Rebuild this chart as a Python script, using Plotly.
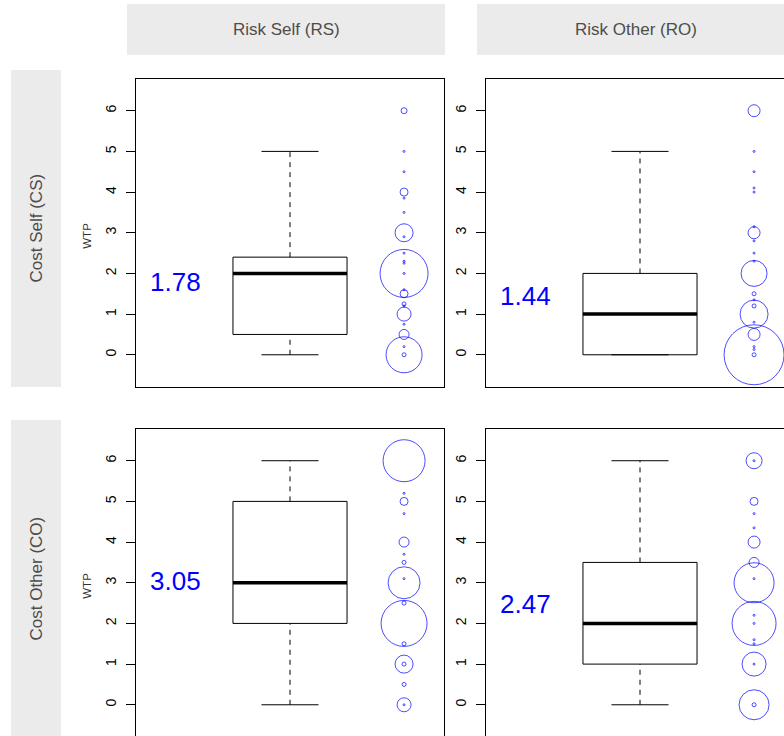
import plotly.graph_objects as go

W, H = 784, 736

col_titles = ["Risk Self (RS)", "Risk Other (RO)"]
row_titles = ["Cost Self (CS)", "Cost Other (CO)"]
y_ticks = [0, 1, 2, 3, 4, 5, 6]

# five-number summaries: lower whisker, lower hinge, median, upper hinge, upper whisker
box_cs_rs = [0, 0.5, 2, 2.4, 5]
box_cs_ro = [0, 0, 1, 2, 5]
box_co_rs = [0, 2, 3, 5, 6]
box_co_ro = [0, 1, 2, 3.5, 6]

# mean WTP per condition
mean_cs_rs = 1.78
mean_cs_ro = 1.44
mean_co_rs = 3.05
mean_co_ro = 2.47

# distinct WTP answers and how many respondents gave each
wtp_cs_rs = [6, 5, 4.5, 4, 3.85, 3.5, 3, 2.9, 2.5, 2.3, 2.25, 2, 2, 1.6, 1.5, 1.25, 1.2, 1, 0.75, 0.5, 0.2, 0, 0]
n_cs_rs = [3, 1, 1, 4, 1, 1, 9, 1, 1, 1, 1, 24, 1, 1, 4, 2, 1, 7, 1, 5, 1, 18, 2]

wtp_cs_ro = [6, 5, 4.5, 4.1, 4, 3.15, 3, 2.8, 2.5, 2.3, 2, 1.5, 1.35, 1.2, 1, 0.8, 0.5, 0.2, 0.13, 0, 0]
n_cs_ro = [6, 1, 1, 1, 1, 1, 6, 1, 1, 1, 13, 2, 1, 2, 14, 1, 6, 1, 1, 30, 2]

wtp_co_rs = [6, 5.2, 5, 4.7, 4, 3.7, 3.5, 3.1, 3, 2.5, 2, 1.5, 1, 1, 0.5, 0, 0]
n_co_rs = [21, 1, 4, 1, 5, 1, 2, 1, 16, 2, 23, 2, 9, 2, 2, 7, 1]

wtp_co_ro = [6, 6, 5, 4.7, 4.35, 4, 3.5, 3.1, 3, 2.2, 2, 2, 1.6, 1.5, 1, 1, 0, 0]
n_co_ro = [8, 1, 4, 1, 1, 6, 5, 1, 20, 1, 22, 1, 1, 1, 12, 1, 15, 2]

panels = [
    (0, 0, box_cs_rs, mean_cs_rs, wtp_cs_rs, n_cs_rs),
    (0, 1, box_cs_ro, mean_cs_ro, wtp_cs_ro, n_cs_ro),
    (1, 0, box_co_rs, mean_co_rs, wtp_co_rs, n_co_rs),
    (1, 1, box_co_ro, mean_co_ro, wtp_co_ro, n_co_ro),
]

# page layout in pixels (plot frames, facet strips)
COL_PX = [(136, 444), (486, 794)]
ROW_PX = [(79, 386.5), (429, 736.5)]
X_LIM = (0.46, 1.54)
Y_LIM = (-0.78, 6.78)
BOX_HALF = 0.2
CAP_HALF = 0.1
BUBBLE_X = 1.4
LABEL_X = 0.6
PX_PER_COUNT = 1.0

FONT = "Liberation Sans, Arial, Helvetica, sans-serif"
BLUE = "#0000FF"


def fx(p):
    return p / W


def fy(p):
    return 1 - p / H


fig = go.Figure()
layout = dict(
    width=W, height=H, margin=dict(l=0, r=0, t=0, b=0),
    paper_bgcolor="white", plot_bgcolor="white", showlegend=False,
    font=dict(family=FONT, color="black"),
)
annotations = []
shapes = []

for k, (r, c, st, mu, wtp, n) in enumerate(panels):
    idx = k + 1
    xa = "x" if idx == 1 else f"x{idx}"
    ya = "y" if idx == 1 else f"y{idx}"
    l, rr = COL_PX[c]
    t, b = ROW_PX[r]
    rv = min(rr, W)
    bv = min(b, H)
    x_hi = X_LIM[0] + (rv - l) / (rr - l) * (X_LIM[1] - X_LIM[0])
    y_lo = Y_LIM[1] - (bv - t) / (b - t) * (Y_LIM[1] - Y_LIM[0])

    lo, q1, med, q3, hi = st
    # box
    fig.add_trace(go.Scatter(
        x=[1 - BOX_HALF, 1 + BOX_HALF, 1 + BOX_HALF, 1 - BOX_HALF, 1 - BOX_HALF],
        y=[q1, q1, q3, q3, q1], mode="lines",
        line=dict(color="black", width=1), xaxis=xa, yaxis=ya, hoverinfo="skip"))
    # whiskers
    fig.add_trace(go.Scatter(
        x=[1, 1, None, 1, 1], y=[lo, q1, None, q3, hi], mode="lines",
        line=dict(color="black", width=1, dash="5px,5px"), xaxis=xa, yaxis=ya, hoverinfo="skip"))
    # whisker caps
    fig.add_trace(go.Scatter(
        x=[1 - CAP_HALF, 1 + CAP_HALF, None, 1 - CAP_HALF, 1 + CAP_HALF],
        y=[lo, lo, None, hi, hi], mode="lines",
        line=dict(color="black", width=1), xaxis=xa, yaxis=ya, hoverinfo="skip"))
    # median
    fig.add_trace(go.Scatter(
        x=[1 - BOX_HALF, 1 + BOX_HALF], y=[med, med], mode="lines",
        line=dict(color="black", width=3.5), xaxis=xa, yaxis=ya, hoverinfo="skip"))
    # bubbles sized by number of respondents
    fig.add_trace(go.Scatter(
        x=[BUBBLE_X] * len(wtp), y=wtp, mode="markers",
        marker=dict(symbol="circle-open", size=[2 * PX_PER_COUNT * v for v in n],
                    color=BLUE, line=dict(color=BLUE, width=1)),
        xaxis=xa, yaxis=ya))

    annotations.append(dict(
        x=LABEL_X, y=mu, xref=xa, yref=ya, text=f"{mu:.2f}", showarrow=False,
        font=dict(family=FONT, size=26, color=BLUE), xanchor="center", yanchor="middle"))

    layout["xaxis" if idx == 1 else f"xaxis{idx}"] = dict(
        domain=[fx(l), fx(rv)], range=[X_LIM[0], x_hi], anchor=ya,
        showgrid=False, zeroline=False, showticklabels=False, ticks="",
        showline=True, linecolor="black", linewidth=1,
        mirror=(r == 0), side="bottom" if r == 0 else "top")
    layout["yaxis" if idx == 1 else f"yaxis{idx}"] = dict(
        domain=[fy(bv), fy(t)], range=[y_lo, Y_LIM[1]], anchor=xa,
        showgrid=False, zeroline=False, tickvals=y_ticks,
        ticktext=[str(v) for v in y_ticks], ticks="outside", ticklen=9,
        tickwidth=1, tickcolor="black", tickangle=-90,
        tickfont=dict(family=FONT, size=14, color="black"),
        ticklabelstandoff=4,
        showline=True, linecolor="black", linewidth=1, mirror=(c == 0))

    if c == 0:
        annotations.append(dict(
            x=fx(87), y=fy((t + b) / 2 + 3), xref="paper", yref="paper", text="WTP",
            textangle=-90, showarrow=False, font=dict(family=FONT, size=11.5, color="#333333"),
            xanchor="center", yanchor="middle"))

# facet strips
STRIP_COL_PX = [(127, 445), (477, 795)]
STRIP_TOP = (4, 55)
STRIP_ROW_PX = [(70, 387), (420, 737)]
STRIP_LEFT = (11, 61)
STRIP_FILL = "#EBEBEB"
STRIP_TEXT = "#4D4D4D"

for (a, bb), title in zip(STRIP_COL_PX, col_titles):
    shapes.append(dict(type="rect", xref="paper", yref="paper",
                       x0=fx(a), x1=fx(min(bb, W)), y0=fy(STRIP_TOP[1]), y1=fy(STRIP_TOP[0]),
                       fillcolor=STRIP_FILL, line=dict(width=0), layer="below"))
    annotations.append(dict(x=fx((a + bb) / 2), y=fy(sum(STRIP_TOP) / 2), xref="paper", yref="paper",
                            text=title, showarrow=False, xanchor="center", yanchor="middle",
                            font=dict(family=FONT, size=17, color=STRIP_TEXT)))

for (a, bb), title in zip(STRIP_ROW_PX, row_titles):
    shapes.append(dict(type="rect", xref="paper", yref="paper",
                       x0=fx(STRIP_LEFT[0]), x1=fx(STRIP_LEFT[1]), y0=fy(min(bb, H)), y1=fy(a),
                       fillcolor=STRIP_FILL, line=dict(width=0), layer="below"))
    annotations.append(dict(x=fx(sum(STRIP_LEFT) / 2), y=fy((a + bb) / 2), xref="paper", yref="paper",
                            text=title, textangle=-90, showarrow=False, xanchor="center", yanchor="middle",
                            font=dict(family=FONT, size=17, color=STRIP_TEXT)))

layout["annotations"] = annotations
layout["shapes"] = shapes
fig.update_layout(**layout)
fig.write_html("out.html")
